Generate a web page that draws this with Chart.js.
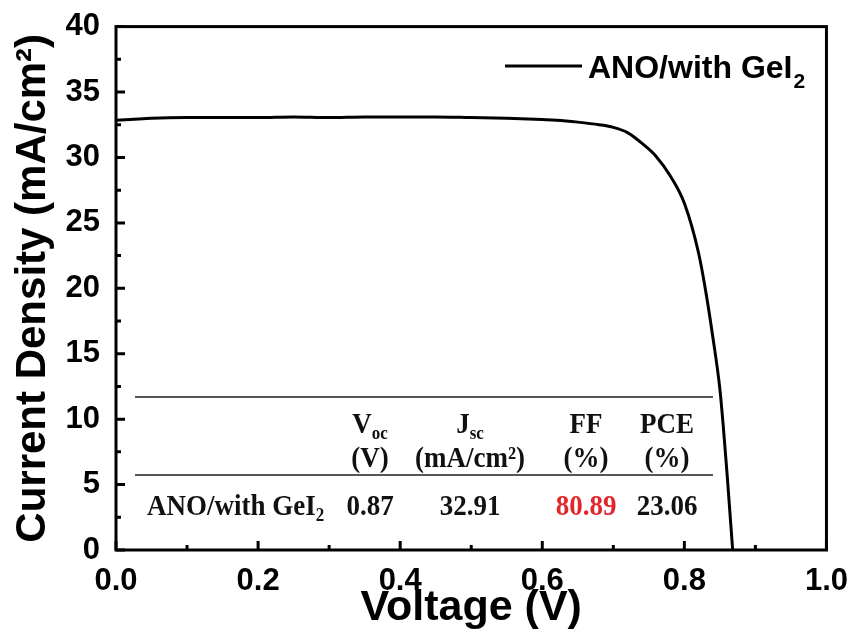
<!DOCTYPE html>
<html>
<head>
<meta charset="utf-8">
<script src="https://cdn.jsdelivr.net/npm/chart.js@4/dist/chart.umd.min.js"></script>
<style>
  html, body { margin: 0; padding: 0; background: #fff; }
  #wrap { width: 853px; height: 634px; }
</style>
</head>
<body>
<div id="wrap"><canvas id="jv" width="853" height="634"></canvas></div>
<script>
// J-V curve
const voltage = [0, 0.02, 0.05, 0.1, 0.15, 0.2, 0.25, 0.3, 0.35, 0.4, 0.45, 0.5, 0.55, 0.6, 0.62, 0.65, 0.68, 0.7, 0.72, 0.74, 0.76, 0.78, 0.8, 0.82, 0.83, 0.84, 0.85, 0.855, 0.86, 0.865, 0.868];
const current = [32.85, 32.9, 33.0, 33.05, 33.05, 33.05, 33.1, 33.05, 33.1, 33.1, 33.1, 33.05, 33.0, 32.9, 32.85, 32.7, 32.5, 32.3, 31.9, 31.1, 30.1, 28.6, 26.5, 22.7, 19.8, 16.3, 12.3, 9.3, 5.9, 2.2, 0];
const seriesName = "ANO/with GeI";

// parameter table
const tableHeads = ["V|oc", "J|sc", "FF", "PCE"];
const tableUnits = ["(V)", "(mA/cm²)", "(%)", "(%)"];
const rowLabel = "ANO/with GeI";
const rowValues = ["0.87", "32.91", "80.89", "23.06"];

const xMajor = [0, 0.2, 0.4, 0.6, 0.8, 1.0];
const xMinor = [0.1, 0.3, 0.5, 0.7, 0.9];
const yMajor = [0, 5, 10, 15, 20, 25, 30, 35, 40];
const yMinor = [2.5, 7.5, 12.5, 17.5, 22.5, 27.5, 32.5, 37.5];

const sans = "'Liberation Sans', Arial, sans-serif";
const serif = "'Liberation Serif', 'Times New Roman', serif";

// frame + inward ticks
const framePlugin = {
  id: "frame",
  afterDatasetsDraw(chart) {
    const { ctx, chartArea: a, scales: { x, y } } = chart;
    ctx.save();
    ctx.strokeStyle = "#000";
    ctx.lineWidth = 3;
    ctx.strokeRect(a.left, a.top, a.right - a.left, a.bottom - a.top);
    ctx.beginPath();
    xMajor.forEach(v => { const px = x.getPixelForValue(v); ctx.moveTo(px, a.bottom); ctx.lineTo(px, a.bottom - 9); });
    xMinor.forEach(v => { const px = x.getPixelForValue(v); ctx.moveTo(px, a.bottom); ctx.lineTo(px, a.bottom - 5); });
    yMajor.forEach(v => { const py = y.getPixelForValue(v); ctx.moveTo(a.left, py); ctx.lineTo(a.left + 9, py); });
    yMinor.forEach(v => { const py = y.getPixelForValue(v); ctx.moveTo(a.left, py); ctx.lineTo(a.left + 5, py); });
    ctx.stroke();
    ctx.restore();
  }
};

// legend inside the plot
const legendPlugin = {
  id: "inlegend",
  afterDraw(chart) {
    const { ctx } = chart;
    ctx.save();
    ctx.strokeStyle = "#000";
    ctx.lineWidth = 3;
    ctx.beginPath();
    ctx.moveTo(505, 66);
    ctx.lineTo(582, 66);
    ctx.stroke();
    ctx.fillStyle = "#000";
    ctx.textBaseline = "alphabetic";
    ctx.font = "bold 32px " + sans;
    ctx.fillText(seriesName, 588, 78);
    const w = ctx.measureText(seriesName).width;
    ctx.font = "bold 21px " + sans;
    ctx.fillText("2", 588 + w + 1, 88);
    ctx.restore();
  }
};

// draw text with optional subscript part ("V|oc"), centred at cx
function subText(ctx, txt, cx, base, size, color, left) {
  const [main, sub] = txt.split("|");
  ctx.font = "bold " + size + "px " + serif;
  const w1 = ctx.measureText(main).width;
  ctx.font = "bold " + Math.round(size * 0.62) + "px " + serif;
  const w2 = sub ? ctx.measureText(sub).width : 0;
  const x0 = left ? cx : cx - (w1 + w2) / 2;
  ctx.fillStyle = color;
  ctx.save();
  ctx.translate(0, base);
  ctx.scale(1, 1.12);
  ctx.font = "bold " + size + "px " + serif;
  ctx.fillText(main, x0, 0);
  if (sub) {
    ctx.font = "bold " + Math.round(size * 0.62) + "px " + serif;
    ctx.fillText(sub, x0 + w1, 5);
  }
  ctx.restore();
}

const tablePlugin = {
  id: "table",
  afterDraw(chart) {
    const { ctx } = chart;
    const cols = [370, 470, 586, 667];
    ctx.save();
    ctx.strokeStyle = "#555";
    ctx.lineWidth = 2;
    ctx.beginPath();
    ctx.moveTo(135, 397); ctx.lineTo(713, 397);
    ctx.moveTo(135, 475); ctx.lineTo(713, 475);
    ctx.stroke();
    ctx.textBaseline = "alphabetic";
    tableHeads.forEach((h, i) => subText(ctx, h, cols[i], 433, 27, "#111"));
    tableUnits.forEach((u, i) => subText(ctx, u, cols[i], 467, 27, "#111"));
    subText(ctx, rowLabel + "|2", 147, 515, 27, "#111", true);
    rowValues.forEach((v, i) => subText(ctx, v, cols[i], 515, 27, i === 2 ? "#e3262b" : "#111"));
    ctx.restore();
  }
};

new Chart(document.getElementById("jv"), {
  type: "scatter",
  data: {
    datasets: [{
      label: seriesName,
      data: voltage.map((v, i) => ({ x: v, y: current[i] })),
      showLine: true,
      borderColor: "#000",
      borderWidth: 3,
      pointRadius: 0,
      cubicInterpolationMode: "monotone"
    }]
  },
  options: {
    responsive: false,
    animation: false,
    layout: { padding: { top: 24, right: 23, left: 0, bottom: 0 } },
    plugins: { legend: { display: false }, tooltip: { enabled: false } },
    scales: {
      x: {
        type: "linear",
        min: 0,
        max: 1,
        afterFit: s => { s.height = 84; },
        afterBuildTicks: s => { s.ticks = xMajor.map(v => ({ value: v })); },
        grid: { display: false },
        border: { display: false },
        ticks: {
          color: "#000",
          padding: 5,
          maxRotation: 0,
          font: { family: sans, size: 31, weight: "bold" },
          callback: v => v.toFixed(1)
        },
        title: {
          display: true,
          text: "Voltage (V)",
          color: "#000",
          padding: { top: 0, bottom: 0 },
          font: { family: sans, size: 43, weight: "bold" }
        }
      },
      y: {
        type: "linear",
        min: 0,
        max: 40,
        afterFit: s => { s.width = 116; },
        afterBuildTicks: s => { s.ticks = yMajor.map(v => ({ value: v })); },
        grid: { display: false },
        border: { display: false },
        ticks: {
          color: "#000",
          padding: 8,
          font: { family: sans, size: 31, weight: "bold" }
        },
        title: {
          display: true,
          text: "Current Density (mA/cm²)",
          color: "#000",
          padding: { top: 8, bottom: 0 },
          font: { family: sans, size: 42, weight: "bold" }
        }
      }
    }
  },
  plugins: [framePlugin, legendPlugin, tablePlugin]
});
</script>
</body>
</html>
